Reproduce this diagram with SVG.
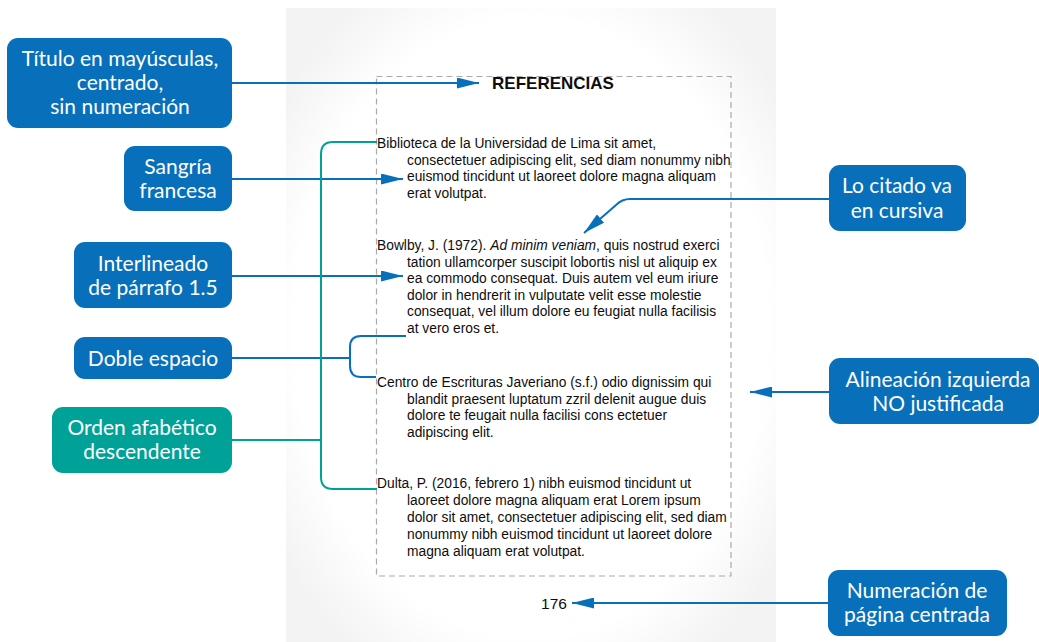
<svg xmlns="http://www.w3.org/2000/svg" width="1039" height="642" viewBox="0 0 1039 642">
  <style>
    .box { fill: #0870BA; }
    .teal { fill: #00A298; }
    .lbl { font-family: Lato, "Noto Sans", sans-serif; font-size: 21px; fill: #ffffff; text-anchor: middle; }
    .doc { font-family: "Liberation Sans", Arial, sans-serif; font-size: 13.8px; fill: #0d0d0d; }
    .ln { fill: none; stroke: #0870BA; stroke-width: 2; }
    .tl { fill: none; stroke: #00A298; stroke-width: 2; }
  </style>
  <defs>
    <radialGradient id="pageShade" cx="50%" cy="50%" r="62%">
      <stop offset="0" stop-color="#ffffff"/>
      <stop offset="0.78" stop-color="#ffffff"/>
      <stop offset="1" stop-color="#f3f3f3"/>
    </radialGradient>
    <marker id="ah" viewBox="0 0 22 11" refX="22" refY="5.5" markerWidth="22" markerHeight="11" markerUnits="userSpaceOnUse" orient="auto">
      <path d="M0,0 L22,5.5 L0,11 z" fill="#0870BA"/>
    </marker>
  </defs>

  <rect width="1039" height="642" fill="#ffffff"/>

  <!-- page -->
  <g id="page">
    <rect x="286" y="8" width="490" height="640" fill="url(#pageShade)"/>
    <rect x="376.5" y="76.5" width="354.5" height="499.5" fill="none" stroke="#aaaaaa" stroke-width="1.2" stroke-dasharray="6 4"/>
    <text x="553" y="89" font-family="Liberation Sans, Arial, sans-serif" font-size="17" font-weight="bold" text-anchor="middle" fill="#0d0d0d">REFERENCIAS</text>
    <text class="doc">
      <tspan x="377" y="148">Biblioteca de la Universidad de Lima sit amet,</tspan>
      <tspan x="407" y="164.5">consectetuer adipiscing elit, sed diam nonummy nibh</tspan>
      <tspan x="407" y="181">euismod tincidunt ut laoreet dolore magna aliquam</tspan>
      <tspan x="407" y="197.5">erat volutpat.</tspan>
    </text>
    <text class="doc">
      <tspan x="377" y="250">Bowlby, J. (1972). <tspan font-style="italic">Ad minim veniam</tspan>, quis nostrud exerci</tspan>
      <tspan x="407" y="266.5">tation ullamcorper suscipit lobortis nisl ut aliquip ex</tspan>
      <tspan x="407" y="283">ea commodo consequat. Duis autem vel eum iriure</tspan>
      <tspan x="407" y="299.5">dolor in hendrerit in vulputate velit esse molestie</tspan>
      <tspan x="407" y="316">consequat, vel illum dolore eu feugiat nulla facilisis</tspan>
      <tspan x="407" y="332.5">at vero eros et.</tspan>
    </text>
    <text class="doc">
      <tspan x="377" y="387">Centro de Escrituras Javeriano (s.f.) odio dignissim qui</tspan>
      <tspan x="407" y="403.5">blandit praesent luptatum zzril delenit augue duis</tspan>
      <tspan x="407" y="420">dolore te feugait nulla facilisi cons ectetuer</tspan>
      <tspan x="407" y="436.5">adipiscing elit.</tspan>
    </text>
    <text class="doc">
      <tspan x="377" y="488">Dulta, P. (2016, febrero 1) nibh euismod tincidunt ut</tspan>
      <tspan x="407" y="505">laoreet dolore magna aliquam erat Lorem ipsum</tspan>
      <tspan x="407" y="522">dolor sit amet, consectetuer adipiscing elit, sed diam</tspan>
      <tspan x="407" y="539">nonummy nibh euismod tincidunt ut laoreet dolore</tspan>
      <tspan x="407" y="556">magna aliquam erat volutpat.</tspan>
    </text>
    <text x="554" y="609" font-family="Liberation Sans, Arial, sans-serif" font-size="15.5" text-anchor="middle" fill="#0d0d0d">176</text>
  </g>

  <!-- connectors -->
  <g id="connectors">
    <path class="ln" d="M232,83 H479" marker-end="url(#ah)"/>
    <path class="ln" d="M232,179 H403" marker-end="url(#ah)"/>
    <path class="ln" d="M232,276 H403" marker-end="url(#ah)"/>
    <path class="ln" d="M232,358 H350"/>
    <path class="ln" d="M406,336 H361 Q350,336 350,347 V366 Q350,377 361,377 H376"/>
    <path class="tl" d="M232,440 H321"/>
    <path class="tl" d="M377,142 H333 Q321,142 321,154 V477 Q321,489 333,489 H377"/>
    <path class="ln" d="M830,199 H630 Q622,199 616,205 L584,233" marker-end="url(#ah)"/>
    <path class="ln" d="M830,392 H750" marker-end="url(#ah)"/>
    <path class="ln" d="M830,603 H572" marker-end="url(#ah)"/>
  </g>

  <g id="n-titulo">
    <rect class="box" x="7" y="38" width="225" height="90" rx="11"/>
    <text class="lbl"><tspan x="120" y="66">Título en mayúsculas,</tspan><tspan x="120" y="90">centrado,</tspan><tspan x="120" y="114">sin numeración</tspan></text>
  </g>
  <g id="n-sangria">
    <rect class="box" x="124" y="146" width="108" height="65" rx="11"/>
    <text class="lbl"><tspan x="178" y="174">Sangría</tspan><tspan x="178" y="198">francesa</tspan></text>
  </g>
  <g id="n-interlineado">
    <rect class="box" x="74" y="242" width="158" height="66" rx="11"/>
    <text class="lbl"><tspan x="153" y="271">Interlineado</tspan><tspan x="153" y="295">de párrafo 1.5</tspan></text>
  </g>
  <g id="n-doble">
    <rect class="box" x="74" y="337" width="158" height="42" rx="11"/>
    <text class="lbl"><tspan x="153" y="366">Doble espacio</tspan></text>
  </g>
  <g id="n-orden">
    <rect class="teal" x="52" y="407" width="180" height="66" rx="11"/>
    <text class="lbl"><tspan x="142" y="435">Orden afabético</tspan><tspan x="142" y="459">descendente</tspan></text>
  </g>
  <g id="n-cursiva">
    <rect class="box" x="829" y="165" width="137" height="66" rx="11"/>
    <text class="lbl"><tspan x="897" y="193">Lo citado va</tspan><tspan x="897" y="218">en cursiva</tspan></text>
  </g>
  <g id="n-alineacion">
    <rect class="box" x="829" y="358" width="210" height="66" rx="11"/>
    <text class="lbl"><tspan x="938" y="387">Alineación izquierda</tspan><tspan x="938" y="411">NO justificada</tspan></text>
  </g>
  <g id="n-numeracion">
    <rect class="box" x="828" y="570" width="179" height="66" rx="11"/>
    <text class="lbl"><tspan x="917" y="598">Numeración de</tspan><tspan x="917" y="622">página centrada</tspan></text>
  </g>
</svg>
